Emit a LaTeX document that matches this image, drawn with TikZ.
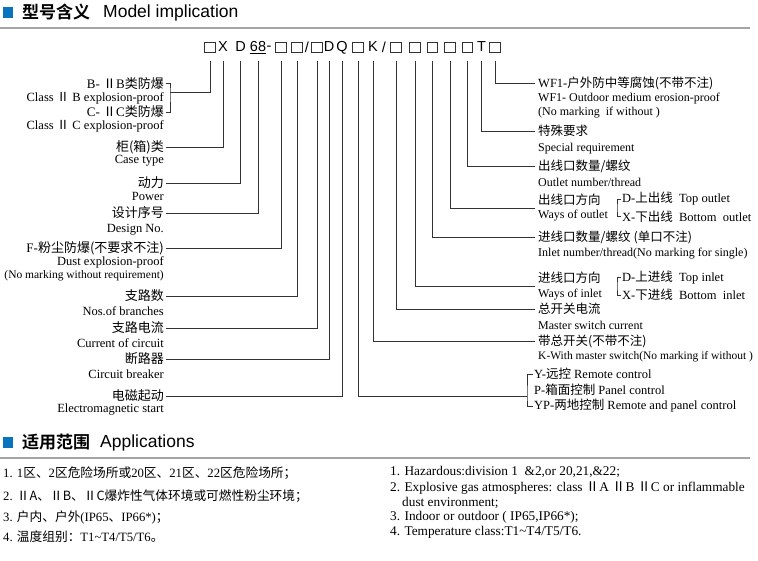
\documentclass[tikz,border=0pt]{standalone}
\usepackage{fontspec}
\setmainfont{Liberation Serif}
\setsansfont{Liberation Sans}
\newfontfamily\cjk{Noto Sans CJK SC}
\newfontfamily\cjkhead{Noto Sans CJK SC Bold}
\newcommand{\zh}[1]{{\cjk #1}}
\usetikzlibrary{positioning}
\definecolor{headblue}{RGB}{10,115,190}
\definecolor{rulegray}{RGB}{165,165,165}
\definecolor{linkgray}{RGB}{50,50,50}

\tikzset{
  ln/.style={draw=linkgray, line width=1pt},
  sq/.style={draw=linkgray, line width=0.8pt, minimum size=10.5pt, inner sep=0pt},
  cd/.style={font=\sffamily\fontsize{14.5}{14}\selectfont, inner sep=0pt},
  lzh/.style={anchor=east, inner xsep=2pt, inner ysep=0pt, font=\fontsize{13}{14}\selectfont},
  len/.style={anchor=east, inner xsep=2pt, inner ysep=0pt, font=\fontsize{12.5}{13}\selectfont},
  rzh/.style={anchor=west, inner xsep=3pt, inner ysep=0pt, font=\fontsize{12.5}{14}\selectfont},
  ren/.style={anchor=west, inner xsep=3pt, inner ysep=0pt, font=\fontsize{12}{13}\selectfont},
  opt/.style={anchor=west, inner xsep=1pt, inner ysep=0pt, font=\fontsize{12.5}{14}\selectfont},
  headzh/.style={anchor=west, inner sep=0pt, font=\cjkhead\fontsize{17}{17}\selectfont},
  headen/.style={anchor=west, inner sep=0pt, font=\sffamily\fontsize{17.5}{17}\selectfont},
  appzh/.style={anchor=west, inner sep=0pt, font=\fontsize{12.7}{15}\selectfont},
  appen/.style={anchor=west, inner sep=0pt, font=\fontsize{13.3}{15}\selectfont}
}

\begin{document}
\begin{tikzpicture}[x=1pt, y=-1pt]
\useasboundingbox (0,0) rectangle (758,560);

% heading: model code
\fill[headblue] (3,7) rectangle (13,18);
\node[headzh] (h1zh) at (22,12) {型号含义};
\node[headen] (h1en) at (103,12.5) {Model implication};
\draw[rulegray, line width=1.2pt] (0,28) -- (750,28);

% the code line
\node[sq] (c1) at (210,47.5) {};
\node[cd] (c2) at (223,47) {X};
\node[cd] (c3) at (240.5,47) {D};
\node[cd] (c4) at (258,48) {\underline{68}};
\node[cd] (dash) at (269,48) {-};
\node[sq] (c5) at (281,47.5) {};
\node[sq] (c6) at (297,47.5) {};
\node[cd] (sl1) at (307,47.5) {/};
\node[sq] (c7) at (317,47.5) {};
\node[cd] (c8) at (329,47) {D};
\node[cd] (c9) at (342,47.5) {Q};
\node[sq] (c10) at (358,47.5) {};
\node[cd] (c11) at (373,47) {K};
\node[cd] (sl2) at (384,47.5) {/};
\node[sq] (c12) at (396,47.5) {};
\node[sq] (c13) at (415,47.5) {};
\node[sq] (c14) at (432.5,47.5) {};
\node[sq] (c15) at (450,47.5) {};
\node[sq] (c16) at (467.5,47.5) {};
\node[cd] (c17) at (481.5,47) {T};
\node[sq] (c18) at (495,47.5) {};
\coordinate (top) at (0,61);

% left side labels
\node[lzh] (bB) at (166,83.5) {B- \zh{Ⅱ}B\zh{类防爆}};
\node[len] (bBen) at (166,98) {Class \zh{Ⅱ} B explosion-proof};
\node[lzh] (cC) at (166,112) {C- \zh{Ⅱ}C\zh{类防爆}};
\node[len] (cCen) at (166,126) {Class \zh{Ⅱ} C explosion-proof};
\coordinate (bc) at (170,92);
\node[lzh] (case) at (166,147) {\zh{柜(箱)类}};
\node[len] (caseen) at (166,161) {Case type};
\node[lzh] (power) at (166,183) {\zh{动力}};
\node[len] (poweren) at (166,196) {Power};
\node[lzh] (design) at (166,213) {\zh{设计序号}};
\node[len] (designen) at (166,230) {Design No.};
\node[lzh] (dust) at (166,248) {F-\zh{粉尘防爆(不要求不注)}};
\node[len] (dusten) at (166,262) {Dust explosion-proof};
\node[len, font=\fontsize{11.5}{13}\selectfont] (dusten2) at (166,275.5) {(No marking without requirement)};
\node[lzh] (branch) at (166,296) {\zh{支路数}};
\node[len] (branchen) at (166,311) {Nos.of branches};
\node[lzh] (curr) at (166,328) {\zh{支路电流}};
\node[len] (curren) at (166,343) {Current of circuit};
\node[lzh] (breaker) at (166,359) {\zh{断路器}};
\node[len] (breakeren) at (166,374) {Circuit breaker};
\node[lzh] (start) at (166,396) {\zh{电磁起动}};
\node[len] (starten) at (166,410) {Electromagnetic start};

% right side labels
\node[rzh] (wf) at (535,83) {WF1-\zh{户外防中等腐蚀(不带不注)}};
\node[ren] (wfen) at (535,99) {WF1- Outdoor medium erosion-proof};
\node[ren] (wfen2) at (535,113) {(No marking\ \ if without )};
\node[rzh] (spec) at (535,131) {\zh{特殊要求}};
\node[ren] (specen) at (535,149) {Special requirement};
\node[rzh] (outn) at (535,166) {\zh{出线口数量/螺纹}};
\node[ren] (outnen) at (535,182) {Outlet number/thread};
\node[rzh] (outdirzh) at (535,200) {\zh{出线口方向}};
\node[ren] (outdiren) at (535,216) {Ways of outlet};
\coordinate (outdir) at (535,208.5);
\node[opt] (outd) at (621,199) {D-\zh{上出线}\ \ Top outlet};
\node[opt] (outx) at (621,216.5) {X-\zh{下出线}\ \ Bottom\ \ outlet};
\coordinate (ob) at (617,208);
\node[rzh] (inn) at (535,237) {\zh{进线口数量/螺纹} \zh{(单口不注)}};
\node[ren] (innen) at (535,253.5) {Inlet number/thread(No marking for single)};
\node[rzh] (indirzh) at (535,277.5) {\zh{进线口方向}};
\node[ren] (indiren) at (535,295) {Ways of inlet};
\coordinate (indir) at (535,286);
\node[opt] (ind) at (621,277.5) {D-\zh{上进线}\ \ Top inlet};
\node[opt] (inx) at (621,295) {X-\zh{下进线}\ \ Bottom\ \ inlet};
\coordinate (ib) at (617,286);
\node[rzh] (msc) at (535,309) {\zh{总开关电流}};
\node[ren] (mscen) at (535,325) {Master switch current};
\node[rzh] (msw) at (535,341) {\zh{带总开关(不带不注)}};
\node[ren, font=\fontsize{11.5}{13}\selectfont] (mswen) at (535,357) {K-With master switch(No marking if without )};
\node[opt] (yr) at (533,374) {Y-\zh{远控} Remote control};
\node[opt] (pc) at (533,390) {P-\zh{箱面控制} Panel control};
\node[opt] (yp) at (533,406) {YP-\zh{两地控制} Remote and panel control};
\coordinate (cb) at (527,396);

% connectors
\draw[ln] (c1 |- top) |- (bc);
\draw[ln] (bB.east) -| (bc) |- (cC.east);
\draw[ln] (c2 |- top) |- (case.east);
\draw[ln] (c3 |- top) |- (power.east);
\draw[ln] (c4 |- top) |- (design.east);
\draw[ln] (c5 |- top) |- (dust.east);
\draw[ln] (c6 |- top) |- (branch.east);
\draw[ln] (c7 |- top) |- (curr.east);
\draw[ln] (c8 |- top) |- (breaker.east);
\draw[ln] (c9 |- top) |- (start.east);
\draw[ln] (c10 |- top) |- (cb);
\draw[ln] (yr.west) -| (cb) |- (yp.west);
\draw[ln] (c11 |- top) |- (msw.west);
\draw[ln] (c12 |- top) |- (msc.west);
\draw[ln] (c13 |- top) |- (indir);
\draw[ln] (ind.west) -| (ib) |- (inx.west);
\draw[ln] (c14 |- top) |- (inn.west);
\draw[ln] (c15 |- top) |- (outdir);
\draw[ln] (outd.west) -| (ob) |- (outx.west);
\draw[ln] (c16 |- top) |- (outn.west);
\draw[ln] (c17 |- top) |- (spec.west);
\draw[ln] (c18 |- top) |- (wf.west);

% heading: applications
\fill[headblue] (3,437) rectangle (13,448);
\node[headzh] (h2zh) at (22,442) {适用范围};
\node[headen] (h2en) at (100,442.5) {Applications};
\draw[rulegray, line width=1.2pt] (0,458) -- (750,458);

\node[appzh] (a1) at (3,473) {1. 1\zh{区、}2\zh{区危险场所或}20\zh{区、}21\zh{区、}22\zh{区危险场所；}};
\node[appzh] (a2) at (3,496) {2. \zh{ⅡA、ⅡB、ⅡC爆炸性气体环境或可燃性粉尘环境；}};
\node[appzh] (a3) at (3,517) {3. \zh{户内、户外}(IP65\zh{、}IP66*)\zh{；}};
\node[appzh] (a4) at (3,537) {4. \zh{温度组别：}T1\textasciitilde T4/T5/T6\zh{。}};

\node[appen] (e1) at (390,472) {1. Hazardous:division 1\ \ \&2,or 20,21,\&22;};
\node[appen] (e2) at (390,488) {2. Explosive gas atmospheres: class \zh{Ⅱ}A \zh{Ⅱ}B \zh{Ⅱ}C or inflammable};
\node[appen] (e2b) at (402,502.5) {dust environment;};
\node[appen] (e3) at (390,517) {3. Indoor or outdoor ( IP65,IP66*);};
\node[appen] (e4) at (390,532) {4. Temperature class:T1\textasciitilde T4/T5/T6.};
\end{tikzpicture}
\end{document}
